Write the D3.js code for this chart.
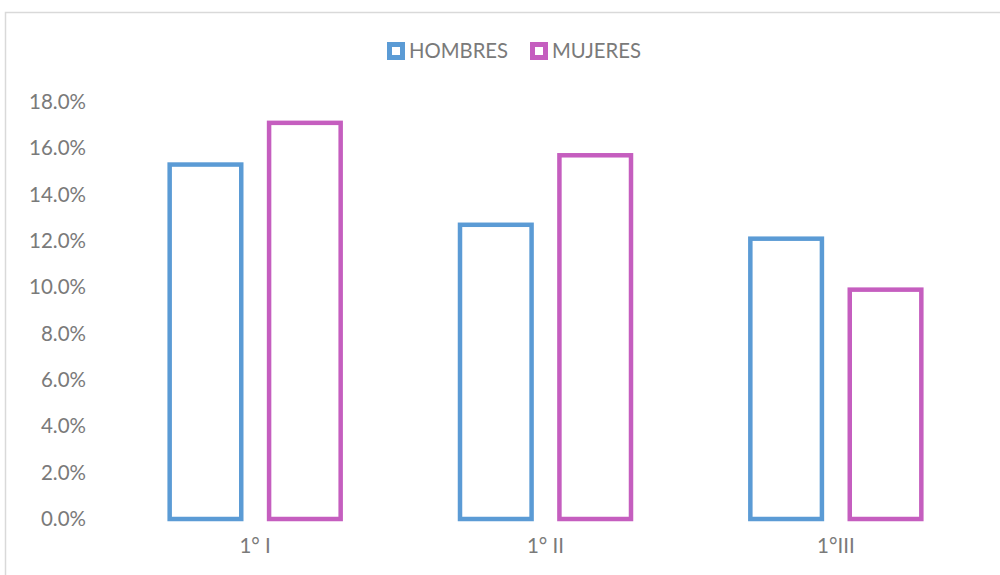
<!DOCTYPE html>
<html>
<head>
<meta charset="utf-8">
<script src="https://cdn.jsdelivr.net/npm/d3@7"></script>
<style>
  body { margin: 0; background: #fff; }
  svg { display: block; font-family: Lato, "Open Sans", sans-serif; }
</style>
</head>
<body>
<div id="chart"></div>
<script>
// chart data
const categories = ["1° I", "1° II", "1°III"];
const seriesNames = ["HOMBRES", "MUJERES"];
const hombres = [15.3, 12.7, 12.1];
const mujeres = [17.1, 15.7, 9.9];
const yTicks = [0, 2, 4, 6, 8, 10, 12, 14, 16, 18];

const colors = { HOMBRES: "#5B9BD5", MUJERES: "#C55EBF" };
const rows = categories.map((c, i) => ({ cat: c, HOMBRES: hombres[i], MUJERES: mujeres[i] }));

const W = 1000, H = 575;
const svg = d3.select("#chart").append("svg")
  .attr("width", W).attr("height", H);

// outer chart frame
svg.append("rect")
  .attr("x", 5.5).attr("y", 12.5)
  .attr("width", 1200).attr("height", 800)
  .attr("fill", "none").attr("stroke", "#d9d9d9").attr("stroke-width", 1.5);

const plot = { left: 110, right: 981, top: 102, bottom: 519 };

const x0 = d3.scaleBand().domain(categories).range([plot.left, plot.right]);
const groupW = 171;
const x1 = d3.scaleBand().domain(seriesNames)
  .range([(x0.bandwidth() - groupW) / 2, (x0.bandwidth() + groupW) / 2])
  .paddingInner(0.28);
const y = d3.scaleLinear().domain([0, 18]).range([plot.bottom, plot.top]);

// y axis (labels only)
const yAxis = d3.axisLeft(y).tickValues(yTicks).tickFormat(d => d.toFixed(1) + "%").tickSize(0).tickPadding(0);
const gy = svg.append("g").attr("transform", "translate(86,0)").call(yAxis);
gy.select(".domain").remove();
gy.selectAll("text").attr("fill", "#7a7a7a").style("font-size", "20.5px")
  .style("font-family", "Lato, sans-serif");

// x axis (labels only)
const xAxis = d3.axisBottom(x0).tickSize(0).tickPadding(0);
const gx = svg.append("g").attr("transform", "translate(0,538)").call(xAxis);
gx.select(".domain").remove();
gx.selectAll("text").attr("fill", "#7a7a7a").style("font-size", "20.5px")
  .style("font-family", "Lato, sans-serif");

// bars
const groups = svg.selectAll(".grp").data(rows).enter().append("g")
  .attr("class", "grp")
  .attr("transform", d => `translate(${x0(d.cat)},0)`);

groups.selectAll("rect")
  .data(d => seriesNames.map(k => ({ key: k, value: d[k] })))
  .enter().append("rect")
  .attr("x", d => x1(d.key))
  .attr("y", d => y(d.value))
  .attr("width", x1.bandwidth())
  .attr("height", d => y(0) - y(d.value))
  .attr("fill", "none")
  .attr("stroke", d => colors[d.key])
  .attr("stroke-width", 4.5);

// legend
const legendX = [387, 530];
const legend = svg.selectAll(".leg").data(seriesNames).enter().append("g")
  .attr("class", "leg")
  .attr("transform", (d, i) => `translate(${legendX[i]},42)`);
legend.append("rect")
  .attr("x", 2.5).attr("y", 2.5).attr("width", 13).attr("height", 13)
  .attr("fill", "#fff").attr("stroke", d => colors[d]).attr("stroke-width", 5);
legend.append("text")
  .attr("x", 22).attr("y", 16)
  .attr("fill", "#7a7a7a").style("font-size", "20.3px")
  .text(d => d);
</script>
</body>
</html>
